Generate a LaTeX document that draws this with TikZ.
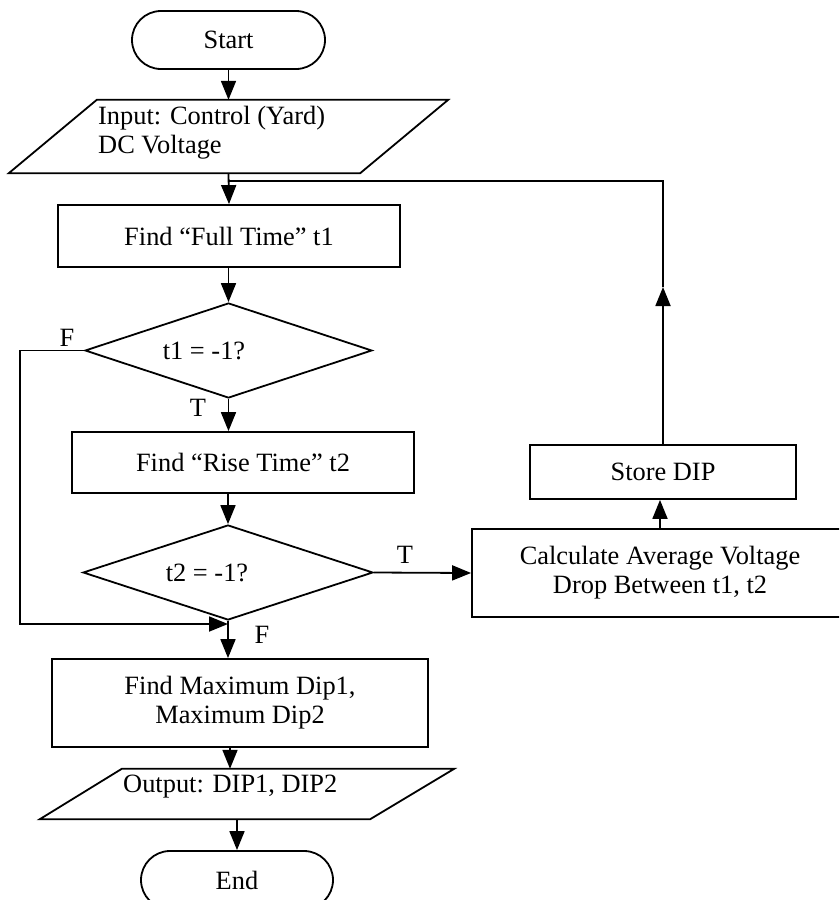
\documentclass[tikz,border=0pt]{standalone}
\usepackage{fontspec}
\setmainfont{Liberation Serif}
\usetikzlibrary{arrows.meta,shapes.geometric}
\begin{document}
\begin{tikzpicture}[x=1pt,y=-1pt,
  every node/.style={font=\fontsize{26.4}{29}\selectfont},
  line/.style={line width=1.8pt},
  arr/.style={line, -{Triangle[length=19pt,width=15pt]}},
  box/.style={draw, line width=1.8pt, rectangle, inner sep=0pt},
  term/.style={box, rounded corners=29pt},
  dec/.style={draw, line width=1.8pt, diamond, inner sep=0pt},
  ghost/.style={rectangle, inner sep=0pt},
  lbl/.style={inner sep=0pt}]
\useasboundingbox (0,0) rectangle (839,900);
\clip (0,0) rectangle (839,900);
\fill[white] (0,0) rectangle (839,900);

% terminals
\node[term, minimum width=193pt, minimum height=58pt] (start) at (228.5,40) {Start};
\node[term, minimum width=192pt, minimum height=58pt] (end) at (237,880) {End};

% input / output parallelograms
\node[ghost, minimum width=439pt, minimum height=73pt] (in) at (228.5,136.5) {};
\draw[line] ([xshift=88pt]in.north west) -- (in.north east)
  -- ([xshift=-88pt]in.south east) -- (in.south west) -- cycle;
\node[lbl, anchor=west, align=left] (intext) at (98,132.5)
  {Input: Control (Yard)\\DC Voltage};

\node[ghost, minimum width=414pt, minimum height=50pt] (out) at (247,794) {};
\draw[line] ([xshift=82pt]out.north west) -- (out.north east)
  -- ([xshift=-84pt]out.south east) -- (out.south west) -- cycle;
\node[lbl, anchor=west] (outtext) at (123,787) {Output: DIP1, DIP2};

% process boxes
\node[box, minimum width=342pt, minimum height=62pt] (ft) at (229,236) {Find “Full Time” t1};
\node[box, minimum width=342pt, minimum height=61pt] (rt) at (243,462.5) {Find “Rise Time” t2};
\node[box, minimum width=376pt, minimum height=88pt, align=center] (md) at (240,703)
  {Find Maximum Dip1,\\Maximum Dip2};
\node[box, minimum width=266pt, minimum height=54pt] (store) at (663,472) {Store DIP};
\node[box, minimum width=376pt, minimum height=88pt, align=center] (calc) at (660,573)
  {Calculate Average Voltage\\Drop Between t1, t2};

% decisions
\node[dec, minimum width=287pt, minimum height=95pt] (d1) at (228.5,350.5) {};
\node[lbl] (d1text) at (204,351) {t1 = -1?};
\node[dec, minimum width=290pt, minimum height=95pt] (d2) at (228,572.5) {};
\node[lbl] (d2text) at (207,573) {t2 = -1?};

% branch labels
\node[lbl] (f1) at (67,338) {F};
\node[lbl] (t1) at (198,408) {T};
\node[lbl] (t2) at (405,555) {T};
\node[lbl] (f2) at (262,635) {F};

% helper points for the loops
\coordinate (loopin) at (228.5,181);
\coordinate (loopturn) at (663,181);
\coordinate (looptip) at (663,287);
\coordinate (fleft) at (20,624);
\coordinate (fjoin) at (228,624);
\coordinate (col) at (230,0);

% connectors
\draw[arr] (start.south) -- (in.north);
\draw[arr] (in.south) -- (ft.north);
\draw[arr] (ft.south -| d1.north) -- (d1.north);
\draw[arr] (d1.south) -- (d1.south |- rt.north);
\draw[arr] (rt.south -| d2.north) -- (d2.north);
\draw[arr] (d2.east) -- (calc.west);
\draw[arr] (calc.north) -- (calc.north |- store.south);
\draw[arr] (store.north) -- (looptip);
\draw[line] (looptip) -- (loopturn) -- (loopin);
\draw[arr] (d1.west) -| (fleft) -- (fjoin);
\draw[arr] (d2.south) -- (d2.south |- md.north);
\draw[arr] (md.south -| col) -- (out.north -| col);
\draw[arr] (out.south -| end.north) -- (end.north);
\end{tikzpicture}
\end{document}
